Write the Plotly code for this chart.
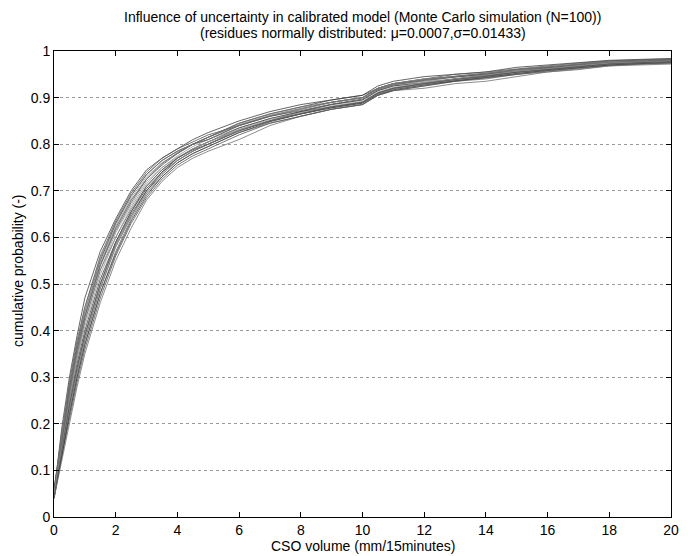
import plotly.graph_objects as go

# CSO volume grid (mm/15minutes) shared by all read-off curves
x_vol = [0, 0.25, 0.5, 0.75, 1, 1.5, 2, 2.5, 3, 3.5, 4, 4.5, 5, 6, 7, 8, 9, 10,
         10.5, 11, 12, 13, 14, 15, 16, 17, 18, 19, 20]

# cumulative probability of a sample of the Monte Carlo runs
run_01 = [0.05, 0.19, 0.30, 0.39, 0.47, 0.57, 0.64, 0.70, 0.745, 0.77, 0.79, 0.81, 0.825, 0.85, 0.87, 0.885, 0.895, 0.905, 0.925, 0.935, 0.945, 0.95, 0.955, 0.965, 0.97, 0.975, 0.98, 0.982, 0.984]
run_02 = [0.04, 0.12, 0.20, 0.28, 0.35, 0.46, 0.55, 0.62, 0.68, 0.72, 0.75, 0.77, 0.785, 0.81, 0.84, 0.86, 0.875, 0.885, 0.905, 0.915, 0.92, 0.93, 0.935, 0.945, 0.955, 0.96, 0.968, 0.97, 0.972]
run_03 = [0.05, 0.16, 0.27, 0.35, 0.43, 0.54, 0.62, 0.68, 0.725, 0.76, 0.78, 0.80, 0.815, 0.84, 0.86, 0.875, 0.89, 0.90, 0.92, 0.93, 0.935, 0.945, 0.95, 0.96, 0.965, 0.97, 0.976, 0.978, 0.98]
run_04 = [0.06, 0.14, 0.24, 0.32, 0.39, 0.50, 0.585, 0.65, 0.70, 0.735, 0.765, 0.785, 0.80, 0.83, 0.85, 0.865, 0.88, 0.89, 0.91, 0.92, 0.93, 0.935, 0.945, 0.95, 0.96, 0.965, 0.97, 0.974, 0.976]
run_05 = [0.05, 0.17, 0.28, 0.37, 0.44, 0.55, 0.63, 0.69, 0.735, 0.765, 0.785, 0.80, 0.815, 0.845, 0.865, 0.88, 0.895, 0.905, 0.92, 0.93, 0.94, 0.945, 0.95, 0.96, 0.965, 0.972, 0.978, 0.98, 0.982]
run_06 = [0.04, 0.13, 0.22, 0.30, 0.37, 0.48, 0.57, 0.64, 0.695, 0.73, 0.76, 0.78, 0.795, 0.825, 0.845, 0.86, 0.875, 0.885, 0.905, 0.915, 0.925, 0.935, 0.94, 0.95, 0.955, 0.962, 0.968, 0.972, 0.975]
run_07 = [0.05, 0.15, 0.26, 0.34, 0.42, 0.53, 0.61, 0.67, 0.72, 0.75, 0.775, 0.795, 0.81, 0.835, 0.855, 0.87, 0.885, 0.895, 0.915, 0.925, 0.935, 0.94, 0.95, 0.955, 0.962, 0.968, 0.974, 0.977, 0.979]
run_08 = [0.06, 0.18, 0.29, 0.38, 0.45, 0.56, 0.635, 0.695, 0.74, 0.77, 0.79, 0.805, 0.82, 0.84, 0.86, 0.875, 0.89, 0.90, 0.92, 0.93, 0.94, 0.95, 0.955, 0.962, 0.968, 0.974, 0.979, 0.981, 0.983]
run_09 = [0.05, 0.14, 0.23, 0.31, 0.38, 0.49, 0.58, 0.645, 0.70, 0.74, 0.77, 0.79, 0.805, 0.835, 0.855, 0.87, 0.88, 0.89, 0.91, 0.92, 0.93, 0.94, 0.945, 0.955, 0.96, 0.966, 0.972, 0.975, 0.977]
run_10 = [0.05, 0.16, 0.26, 0.35, 0.42, 0.53, 0.60, 0.66, 0.71, 0.745, 0.77, 0.79, 0.805, 0.83, 0.85, 0.865, 0.88, 0.89, 0.91, 0.92, 0.93, 0.94, 0.948, 0.956, 0.963, 0.968, 0.974, 0.976, 0.978]
run_11 = [0.05, 0.17, 0.27, 0.36, 0.44, 0.545, 0.625, 0.685, 0.73, 0.76, 0.78, 0.80, 0.81, 0.84, 0.86, 0.875, 0.89, 0.90, 0.92, 0.93, 0.94, 0.945, 0.952, 0.96, 0.966, 0.971, 0.976, 0.978, 0.98]
run_12 = [0.04, 0.13, 0.21, 0.29, 0.36, 0.47, 0.56, 0.63, 0.685, 0.725, 0.755, 0.775, 0.79, 0.82, 0.845, 0.86, 0.875, 0.885, 0.905, 0.915, 0.925, 0.935, 0.942, 0.95, 0.957, 0.963, 0.97, 0.972, 0.974]
run_13 = [0.05, 0.15, 0.25, 0.33, 0.40, 0.51, 0.59, 0.655, 0.705, 0.74, 0.765, 0.785, 0.80, 0.83, 0.85, 0.87, 0.885, 0.895, 0.915, 0.925, 0.932, 0.94, 0.947, 0.955, 0.962, 0.967, 0.973, 0.976, 0.978]
run_14 = [0.05, 0.18, 0.28, 0.37, 0.45, 0.555, 0.63, 0.69, 0.735, 0.765, 0.785, 0.80, 0.815, 0.845, 0.865, 0.88, 0.89, 0.90, 0.92, 0.93, 0.938, 0.946, 0.953, 0.96, 0.966, 0.972, 0.977, 0.979, 0.981]
run_15 = [0.04, 0.14, 0.23, 0.31, 0.385, 0.495, 0.58, 0.645, 0.695, 0.735, 0.765, 0.785, 0.80, 0.83, 0.85, 0.865, 0.878, 0.888, 0.908, 0.918, 0.928, 0.937, 0.944, 0.952, 0.958, 0.965, 0.971, 0.973, 0.975]
run_16 = [0.06, 0.16, 0.27, 0.36, 0.43, 0.54, 0.615, 0.675, 0.725, 0.755, 0.78, 0.80, 0.81, 0.84, 0.86, 0.872, 0.886, 0.897, 0.917, 0.927, 0.937, 0.944, 0.95, 0.958, 0.964, 0.97, 0.975, 0.978, 0.98]
run_17 = [0.05, 0.13, 0.22, 0.30, 0.37, 0.48, 0.565, 0.635, 0.69, 0.73, 0.76, 0.78, 0.795, 0.825, 0.848, 0.865, 0.878, 0.888, 0.907, 0.917, 0.927, 0.936, 0.943, 0.952, 0.958, 0.964, 0.97, 0.973, 0.975]
run_18 = [0.05, 0.17, 0.27, 0.36, 0.43, 0.54, 0.62, 0.68, 0.725, 0.758, 0.782, 0.80, 0.815, 0.842, 0.862, 0.877, 0.89, 0.90, 0.918, 0.928, 0.938, 0.946, 0.952, 0.96, 0.966, 0.971, 0.976, 0.978, 0.98]
run_19 = [0.05, 0.15, 0.25, 0.34, 0.41, 0.52, 0.60, 0.665, 0.715, 0.75, 0.772, 0.79, 0.805, 0.832, 0.853, 0.868, 0.882, 0.892, 0.912, 0.922, 0.932, 0.94, 0.948, 0.956, 0.962, 0.968, 0.974, 0.976, 0.978]
run_20 = [0.04, 0.14, 0.24, 0.32, 0.39, 0.50, 0.59, 0.655, 0.71, 0.745, 0.77, 0.788, 0.80, 0.828, 0.85, 0.866, 0.88, 0.89, 0.91, 0.92, 0.93, 0.938, 0.946, 0.954, 0.96, 0.966, 0.972, 0.975, 0.977]

runs = [run_01, run_02, run_03, run_04, run_05, run_06, run_07, run_08, run_09, run_10,
        run_11, run_12, run_13, run_14, run_15, run_16, run_17, run_18, run_19, run_20]

x_ticks = list(range(0, 21, 2))
y_ticks = [i / 10 for i in range(11)]
y_tick_text = ["0", "0.1", "0.2", "0.3", "0.4", "0.5", "0.6", "0.7", "0.8", "0.9", "1"]

shades = ["#404040", "#707070", "#959595", "#555555"]
FONT = "Liberation Sans, Arial, sans-serif"

fig = go.Figure()
for i, run in enumerate(runs):
    fig.add_trace(go.Scatter(
        x=x_vol, y=run, mode="lines",
        line=dict(color=shades[i % 4], width=0.8),
        showlegend=False, hoverinfo="skip",
    ))

# page body adds an 8px offset, so the figure is 8px smaller than the window
fig.update_layout(
    template="none",
    width=683, height=548,
    margin=dict(l=46, r=20, t=43, b=39),
    paper_bgcolor="white", plot_bgcolor="white",
    font=dict(family=FONT, size=14, color="black"),
)

# titles as annotations so the MATLAB-style spacing can be kept
title_1 = "Influence of uncertainty in calibrated model (Monte Carlo simulation (N=100))"
title_2 = "(residues normally distributed: μ=0.0007,σ=0.01433)"
fig.add_annotation(text=title_1, xref="paper", yref="paper", x=0.5, y=1.0730,
                   xanchor="center", yanchor="middle", showarrow=False,
                   font=dict(family=FONT, size=14))
fig.add_annotation(text=title_2, xref="paper", yref="paper", x=0.5, y=1.0380,
                   xanchor="center", yanchor="middle", showarrow=False,
                   font=dict(family=FONT, size=14))
fig.add_annotation(text="CSO volume (mm/15minutes)", xref="paper", yref="paper",
                   x=0.5, y=-0.0612, xanchor="center", yanchor="middle",
                   showarrow=False, font=dict(family=FONT, size=14))
fig.add_annotation(text="cumulative probability (-)", xref="paper", yref="paper",
                   x=-0.0583, y=0.528, xanchor="center", yanchor="middle",
                   textangle=-90, showarrow=False, font=dict(family=FONT, size=14))

fig.update_xaxes(
    range=[0, 20], tickvals=x_ticks, ticks="inside", ticklen=5, tickcolor="black",
    showline=True, linecolor="black", linewidth=1, mirror="ticks",
    showgrid=False, zeroline=False, automargin=False,
)
fig.update_yaxes(
    range=[0, 1], tickvals=y_ticks, ticktext=y_tick_text, ticks="inside", ticklen=5,
    tickcolor="black",
    showline=True, linecolor="black", linewidth=1, mirror="ticks",
    showgrid=True, gridcolor="#9a9a9a", griddash="dot", gridwidth=1,
    zeroline=False, automargin=False,
)

fig.write_html("out.html")
